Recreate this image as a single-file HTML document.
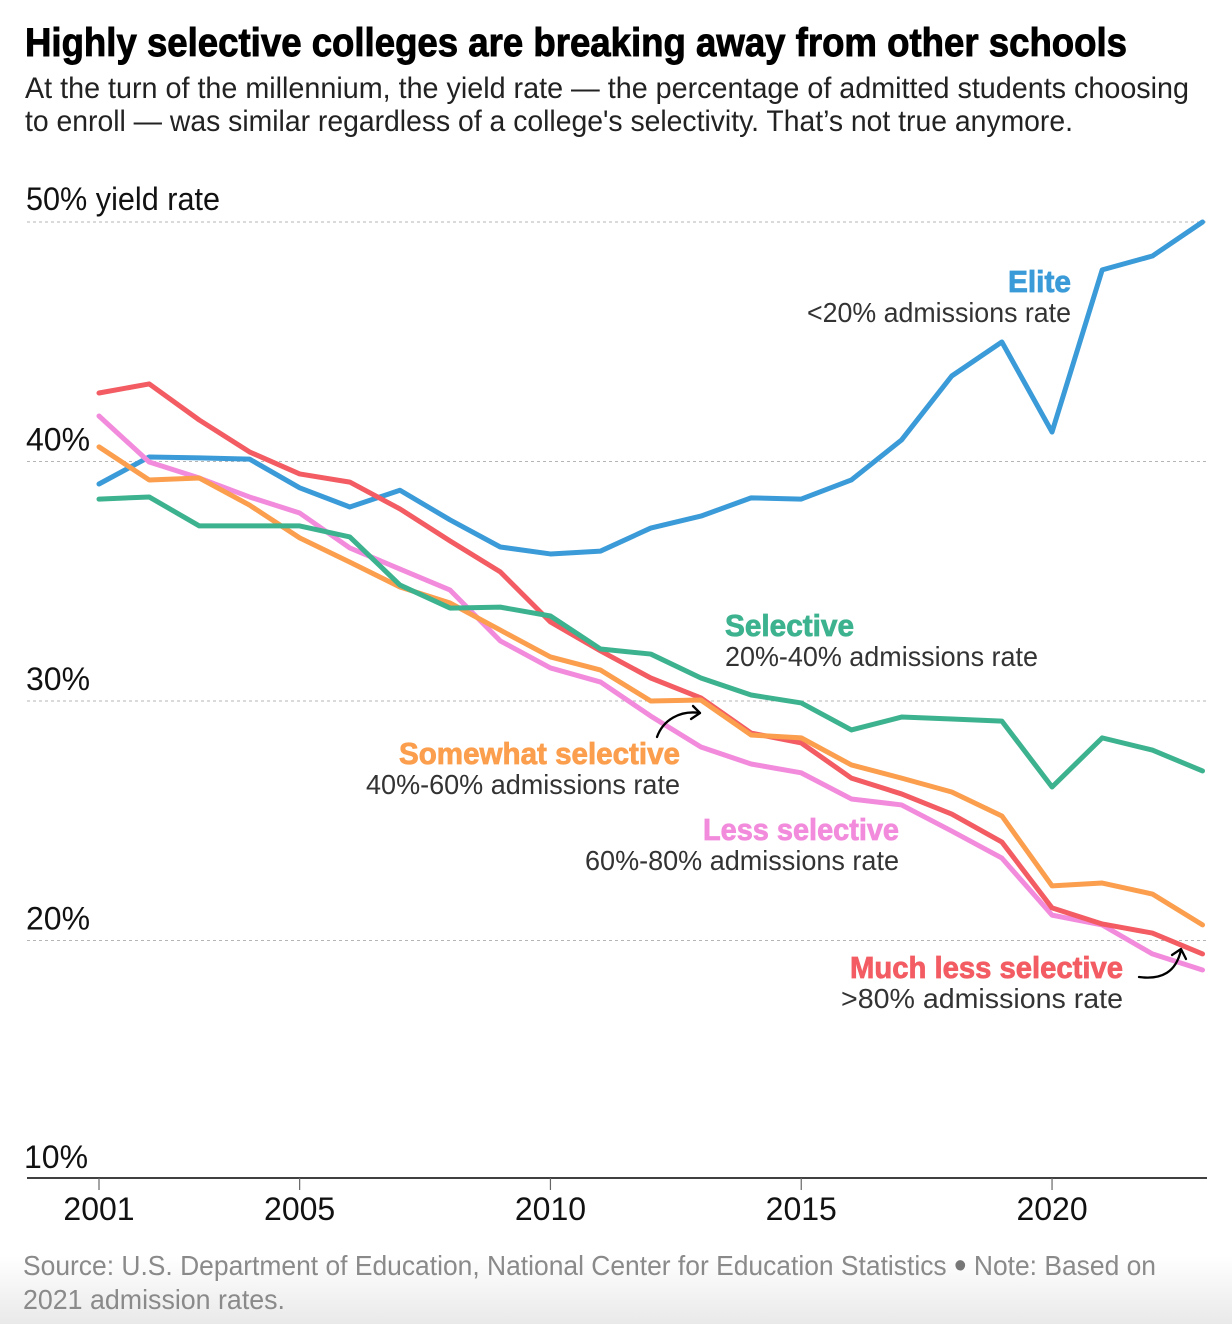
<!DOCTYPE html>
<html lang="en">
<head>
<meta charset="utf-8">
<title>Highly selective colleges are breaking away from other schools</title>
<style>
html,body{margin:0;padding:0;background:#fff;width:1232px;height:1324px;overflow:hidden}
svg{display:block}
text{font-family:"Liberation Sans",Arial,sans-serif}
.title{font-size:40px;font-weight:700;fill:#000;stroke:#000;stroke-width:.9px}
.sub{font-size:30px;fill:#222}
.tick{font-size:32px;fill:#111}
.name{font-size:31px;font-weight:700;stroke-width:.8px}
.desc{font-size:28px;fill:#333}
.foot{font-size:28px;fill:#8a8a8a}
</style>
</head>
<body>
<svg id="chart" width="1232" height="1324" viewBox="0 0 1232 1324" xmlns="http://www.w3.org/2000/svg">
  <defs>
    <linearGradient id="fade" x1="0" y1="0" x2="0" y2="1">
      <stop offset="0" stop-color="#ffffff"/>
      <stop offset="1" stop-color="#e9e9e9"/>
    </linearGradient>
  </defs>
  <rect width="1232" height="1324" fill="#fff"/>
  <rect x="0" y="1256" width="1232" height="68" fill="url(#fade)"/>

  <text class="title" x="25" y="56" textLength="1102" lengthAdjust="spacingAndGlyphs">Highly selective colleges are breaking away from other schools</text>
  <text class="sub" x="25" y="98" textLength="1164" lengthAdjust="spacingAndGlyphs">At the turn of the millennium, the yield rate — the percentage of admitted students choosing</text>
  <text class="sub" x="25" y="131" textLength="1048" lengthAdjust="spacingAndGlyphs">to enroll — was similar regardless of a college's selectivity. That’s not true anymore.</text>

  <g id="grid"></g>
  <g id="xaxis"></g>
  <g id="lines"></g>

  <text class="name" x="1008" y="292" textLength="63" lengthAdjust="spacingAndGlyphs" fill="#3a9bd8" stroke="#3a9bd8">Elite</text>
  <text class="desc" x="807" y="322" textLength="264" lengthAdjust="spacingAndGlyphs">&lt;20% admissions rate</text>
  <text class="name" x="725" y="636" textLength="129" lengthAdjust="spacingAndGlyphs" fill="#3db28e" stroke="#3db28e">Selective</text>
  <text class="desc" x="725" y="666" textLength="313" lengthAdjust="spacingAndGlyphs">20%-40% admissions rate</text>
  <text class="name" x="399" y="764" textLength="281" lengthAdjust="spacingAndGlyphs" fill="#fb9e4d" stroke="#fb9e4d">Somewhat selective</text>
  <text class="desc" x="366" y="794" textLength="314" lengthAdjust="spacingAndGlyphs">40%-60% admissions rate</text>
  <text class="name" x="703" y="840" textLength="196" lengthAdjust="spacingAndGlyphs" fill="#f28bdc" stroke="#f28bdc">Less selective</text>
  <text class="desc" x="585" y="870" textLength="314" lengthAdjust="spacingAndGlyphs">60%-80% admissions rate</text>
  <text class="name" x="850" y="978" textLength="273" lengthAdjust="spacingAndGlyphs" fill="#f25c62" stroke="#f25c62">Much less selective</text>
  <text class="desc" x="841" y="1008" textLength="282" lengthAdjust="spacingAndGlyphs">&gt;80% admissions rate</text>

  <g fill="none" stroke="#000" stroke-width="2.3" stroke-linecap="round" stroke-linejoin="round">
    <path d="M657 737C663 720 680 710 700 713"/>
    <path d="M693 706L700 713L691 719"/>
  </g>
  <g fill="none" stroke="#000" stroke-width="2.3" stroke-linecap="round" stroke-linejoin="round">
    <path d="M1139 977C1162 980 1176 972 1181 950"/>
    <path d="M1172 955L1181 949L1186 959"/>
  </g>

  <text class="foot" x="23" y="1275" textLength="1133" lengthAdjust="spacingAndGlyphs">Source: U.S. Department of Education, National Center for Education Statistics <tspan font-size="38" fill="#777" dy="3">•</tspan><tspan dy="-3"> Note: Based on</tspan></text>
  <text class="foot" x="23" y="1309" textLength="262" lengthAdjust="spacingAndGlyphs">2021 admission rates.</text>
</svg>
<script>
const years = [2001,2002,2003,2004,2005,2006,2007,2008,2009,2010,2011,2012,2013,2014,2015,2016,2017,2018,2019,2020,2021,2022,2023];
const xTickYears = [2001,2005,2010,2015,2020];
const gridValues = [50,40,30,20];
const yTickLabels = ["50% yield rate","40%","30%","20%","10%"];
const yTickValues = [50,40,30,20,10];
const elite = [39.06,40.19,40.15,40.1,38.9,38.1,38.8,37.56,36.43,36.14,36.26,37.22,37.72,38.48,38.43,39.23,40.9,43.57,44.99,41.23,48.0,48.58,50];
const lessSelective = [41.9,39.98,39.31,38.52,37.85,36.39,35.51,34.63,32.51,31.38,30.79,29.37,28.08,27.37,27.0,25.91,25.66,24.57,23.44,21.06,20.65,19.44,18.77];
const muchLessSelective = [42.86,43.24,41.73,40.4,39.48,39.14,38.02,36.68,35.39,33.3,32.09,30.96,30.13,28.66,28.25,26.78,26.12,25.28,24.11,21.36,20.69,20.31,19.44];
const somewhatSelective = [40.61,39.23,39.31,38.18,36.81,35.8,34.76,34.09,32.96,31.84,31.29,30,30.04,28.58,28.46,27.33,26.78,26.2,25.2,22.28,22.4,21.94,20.65];
const selective = [38.43,38.52,37.31,37.31,37.31,36.85,34.84,33.88,33.92,33.55,32.17,31.96,30.96,30.25,29.92,28.79,29.33,29.25,29.16,26.41,28.46,27.95,27.08];

const NS = "http://www.w3.org/2000/svg";
const axisY = 1178;
function x(year){ return 99 + (year - 2001) * 50.16; }
function y(value){ return 222 + (50 - value) * 23.95; }
function make(tag, attrs){
  const el = document.createElementNS(NS, tag);
  for (const k in attrs) el.setAttribute(k, attrs[k]);
  return el;
}

const grid = document.getElementById("grid");
gridValues.forEach(function(v){
  const line = make("line", {x1:27, x2:1207, y1:y(v), y2:y(v), stroke:"#b5b5b5", "stroke-width":1, "stroke-dasharray":"3 3"});
  
  
  grid.appendChild(line);
});
yTickValues.forEach(function(v, i){
  const t = make("text", {class:"tick", x:v === 10 ? 24 : 26, y:y(v) - (i === 0 || v === 10 ? 12 : 11)});
  
  
  if (i === 0) { t.setAttribute("textLength", 194); t.setAttribute("lengthAdjust", "spacingAndGlyphs"); }
  t.textContent = yTickLabels[i];
  grid.appendChild(t);
});

const xaxis = document.getElementById("xaxis");
const baseline = make("line", {x1:27, x2:1207, y1:axisY, y2:axisY, stroke:"#000", "stroke-width":1.6});


xaxis.appendChild(baseline);
xTickYears.forEach(function(yr){
  const tick = make("line", {x1:x(yr), x2:x(yr), y1:axisY, y2:axisY + 12, stroke:"#666", "stroke-width":1.2});
  
  
  xaxis.appendChild(tick);
  const label = make("text", {class:"tick", x:x(yr), y:1220, "text-anchor":"middle"});
  
  
  label.textContent = yr;
  xaxis.appendChild(label);
});

const linesGroup = document.getElementById("lines");
function drawSeries(values, color, name){
  const d = values.map(function(v, i){ return (i ? "L" : "M") + x(years[i]).toFixed(2) + " " + y(v).toFixed(2); }).join("");
  const path = make("path", {d:d, fill:"none", stroke:color, "stroke-width":5, "stroke-linejoin":"round", "stroke-linecap":"round"});
  
  
  linesGroup.appendChild(path);
}
drawSeries(elite, "#3a9bd8", "elite-line");
drawSeries(lessSelective, "#f28bdc", "less-selective-line");
drawSeries(muchLessSelective, "#f25c62", "much-less-selective-line");
drawSeries(somewhatSelective, "#fb9e4d", "somewhat-selective-line");
drawSeries(selective, "#3db28e", "selective-line");
</script>
</body>
</html>
